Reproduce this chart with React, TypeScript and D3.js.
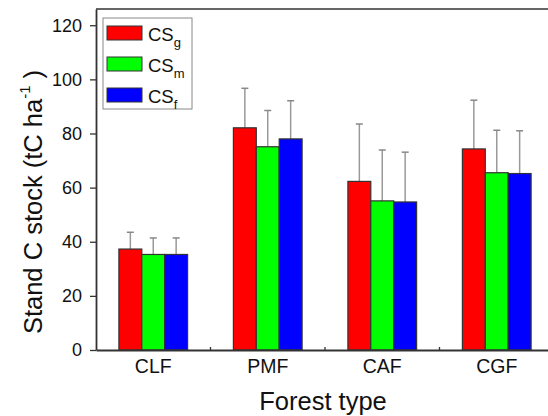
import React, { useEffect, useRef } from 'react';
import * as d3 from 'd3';

// chart data
const categories = ['CLF', 'PMF', 'CAF', 'CGF'];
const seriesKeys = ['g', 'm', 'f'];
const seriesColors = ['#ff0000', '#00ff00', '#0000ff'];
const csG = [37.3, 82.1, 62.3, 74.3];
const csM = [35.3, 75.1, 55.1, 65.5];
const csF = [35.3, 78.0, 54.7, 65.2];
const errG = [6.2, 14.6, 21.2, 18.0];
const errM = [6.1, 13.4, 18.8, 15.7];
const errF = [6.1, 14.1, 18.4, 15.8];
const yTicks = [0, 20, 40, 60, 80, 100, 120];

const W = 548;
const H = 416;

const App = () => {
  const svgRef = useRef<SVGSVGElement>(null);

  useEffect(() => {
    const svg = d3.select(svgRef.current);
    svg.selectAll('*').remove();

    const values = [csG, csM, csF];
    const errors = [errG, errM, errF];
    const font = 'Arial, "Liberation Sans", sans-serif';

    // plot frame runs past the right edge of the picture (it was cropped)
    const left = 96;
    const right = 554;
    const top = 9;
    const bottom = 350;

    const x = d3
      .scaleBand()
      .domain(categories)
      .range([left, right])
      .paddingInner(0.4)
      .paddingOuter(0.2);

    const xs = d3
      .scaleBand()
      .domain(seriesKeys)
      .range([0, x.bandwidth()]);

    const y = d3.scaleLinear().domain([0, 126]).range([bottom, top]);

    // frame top line
    svg
      .append('line')
      .attr('x1', left)
      .attr('x2', W + 10)
      .attr('y1', top)
      .attr('y2', top)
      .attr('stroke', '#333')
      .attr('stroke-width', 1.6);

    // error bars (plus only) drawn first so bars sit on top
    seriesKeys.forEach((k, si) => {
      categories.forEach((c, ci) => {
        const cx = x(c)! + xs(k)! + xs.bandwidth() / 2;
        const v = values[si][ci];
        const e = errors[si][ci];
        svg
          .append('line')
          .attr('x1', cx)
          .attr('x2', cx)
          .attr('y1', y(v))
          .attr('y2', y(v + e))
          .attr('stroke', '#999')
          .attr('stroke-width', 1.5);
        svg
          .append('line')
          .attr('x1', cx - 3.5)
          .attr('x2', cx + 3.5)
          .attr('y1', y(v + e))
          .attr('y2', y(v + e))
          .attr('stroke', '#888')
          .attr('stroke-width', 1.5);
      });
    });

    // bars
    seriesKeys.forEach((k, si) => {
      svg
        .append('g')
        .selectAll('rect')
        .data(categories)
        .join('rect')
        .attr('x', (c) => x(c)! + xs(k)!)
        .attr('y', (c, i) => y(values[si][i]))
        .attr('width', xs.bandwidth())
        .attr('height', (c, i) => bottom - y(values[si][i]))
        .attr('fill', seriesColors[si])
        .attr('stroke', '#333')
        .attr('stroke-width', 1.2);
    });

    // y axis
    const yAxis = svg
      .append('g')
      .attr('transform', `translate(${left},0)`)
      .call(
        d3
          .axisLeft(y)
          .tickValues(yTicks)
          .tickSize(6)
          .tickPadding(8)
          .tickSizeOuter(0)
      );
    yAxis.select('.domain').attr('stroke', '#333').attr('stroke-width', 1.8);
    yAxis.selectAll('.tick line').attr('stroke', '#333').attr('stroke-width', 1.3);
    yAxis
      .selectAll('.tick text')
      .attr('font-family', font)
      .attr('font-size', 18)
      .attr('fill', '#111');

    // x axis
    const xAxis = svg
      .append('g')
      .attr('transform', `translate(0,${bottom})`)
      .call(d3.axisBottom(x).tickSize(0).tickSizeOuter(0));
    xAxis.select('.domain').attr('stroke', '#333').attr('stroke-width', 1.8);
    xAxis
      .selectAll('.tick text')
      .attr('font-family', font)
      .attr('font-size', 19.5)
      .attr('fill', '#111')
      .attr('y', 23)
      .attr('dy', 0);

    // small ticks between categories
    categories.slice(1).forEach((c) => {
      const bx = x(c)! - (x.step() - x.bandwidth()) / 2;
      svg
        .append('line')
        .attr('x1', bx)
        .attr('x2', bx)
        .attr('y1', bottom)
        .attr('y2', bottom - 3)
        .attr('stroke', '#333')
        .attr('stroke-width', 1.3);
    });

    // axis titles
    svg
      .append('text')
      .attr('x', 323)
      .attr('y', 410)
      .attr('text-anchor', 'middle')
      .attr('font-family', font)
      .attr('font-size', 25.5)
      .attr('fill', '#111')
      .text('Forest type');

    const yTitle = svg
      .append('text')
      .attr('transform', 'translate(42,202) rotate(-90)')
      .attr('text-anchor', 'middle')
      .attr('font-family', font)
      .attr('font-size', 25.5)
      .attr('fill', '#111');
    yTitle.append('tspan').text('Stand C stock (tC ha');
    yTitle.append('tspan').attr('font-size', 15).attr('dy', -12).text('-1');
    yTitle.append('tspan').attr('dy', 12).text(' )');

    // legend
    const lg = svg.append('g').attr('transform', 'translate(103,18)');
    lg.append('rect')
      .attr('width', 89)
      .attr('height', 91)
      .attr('fill', '#fff')
      .attr('stroke', '#888')
      .attr('stroke-width', 1);
    seriesKeys.forEach((k, i) => {
      const row = lg.append('g').attr('transform', `translate(0,${8 + i * 31})`);
      row
        .append('rect')
        .attr('x', 4)
        .attr('y', 0)
        .attr('width', 35)
        .attr('height', 14)
        .attr('fill', seriesColors[i])
        .attr('stroke', '#333')
        .attr('stroke-width', 1);
      const t = row
        .append('text')
        .attr('x', 45)
        .attr('y', 15)
        .attr('font-family', font)
        .attr('font-size', 18.5)
        .attr('fill', '#111');
      t.append('tspan').text('CS');
      t.append('tspan').attr('font-size', 13).attr('dy', 6).text(k);
    });
  }, []);

  return (
    <svg
      ref={svgRef}
      width={W}
      height={H}
      style={{ position: 'absolute', left: 0, top: 0, background: '#fff' }}
    ></svg>
  );
};

export default App;
